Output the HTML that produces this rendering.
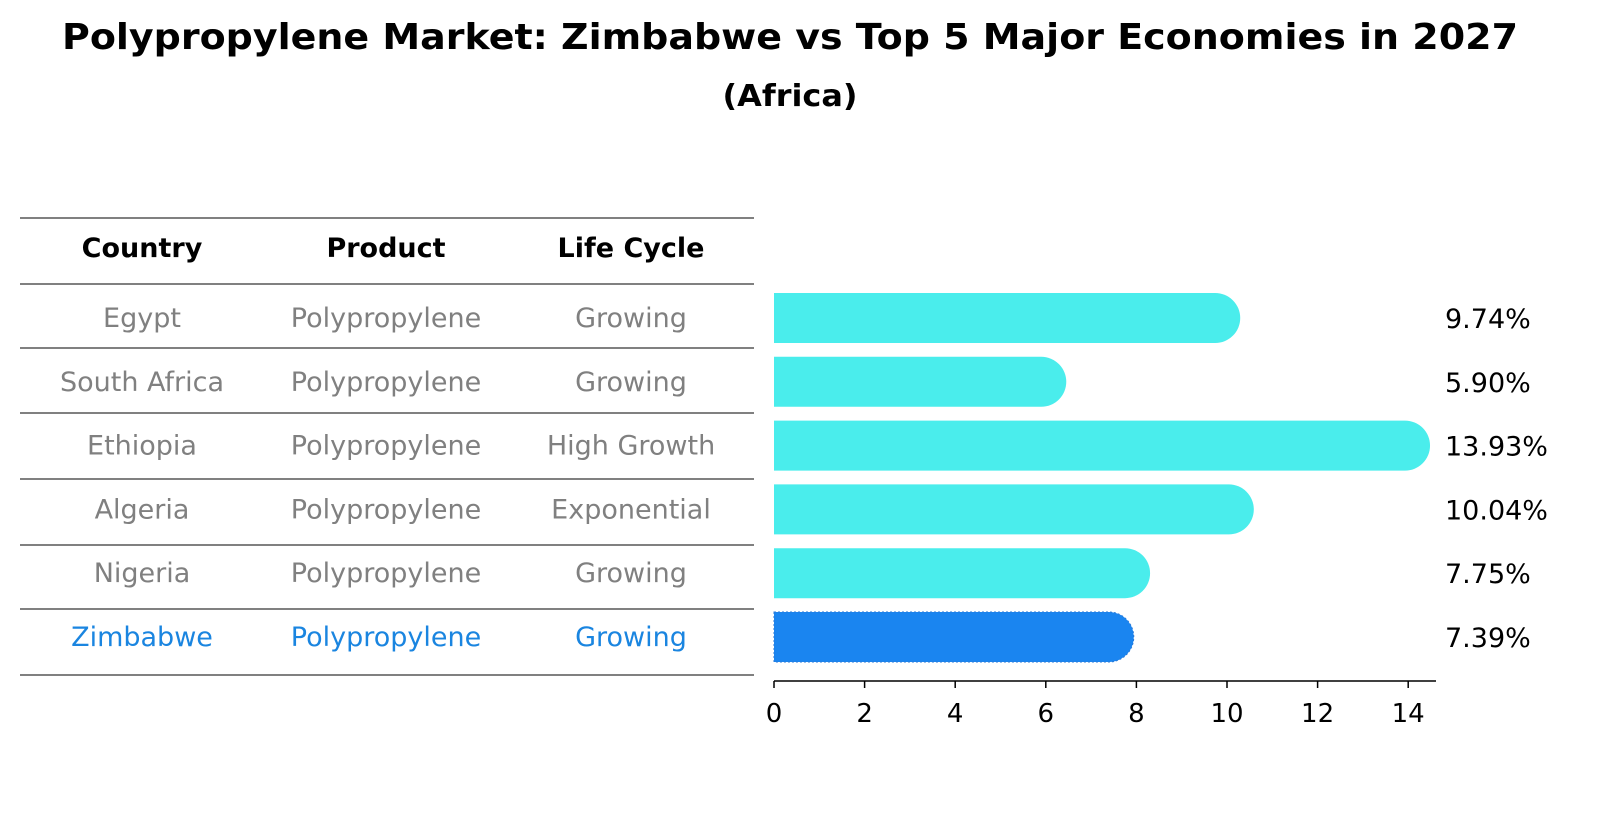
<!DOCTYPE html>
<html><head><meta charset="utf-8"><style>
body{margin:0;background:#fff;width:1604px;height:823px;overflow:hidden;font-family:"Liberation Sans","DejaVu Sans",sans-serif}
</style></head><body>
<svg width="1604" height="823" xmlns="http://www.w3.org/2000/svg" font-family="DejaVu Sans, Liberation Sans, sans-serif">
<text x="790" y="49" text-anchor="middle" font-size="36" font-weight="bold" textLength="1456" lengthAdjust="spacingAndGlyphs">Polypropylene Market: Zimbabwe vs Top 5 Major Economies in 2027</text>
<text x="790" y="106" text-anchor="middle" font-size="30" font-weight="bold" textLength="135" lengthAdjust="spacingAndGlyphs">(Africa)</text>
<g id="table"></g>
<g id="bars"></g>
<g id="axis"></g>
</svg>
<script>
const countries=["Egypt","South Africa","Ethiopia","Algeria","Nigeria","Zimbabwe"];
const products=["Polypropylene","Polypropylene","Polypropylene","Polypropylene","Polypropylene","Polypropylene"];
const lifecycle=["Growing","Growing","High Growth","Exponential","Growing","Growing"];
const values=[9.74,5.90,13.93,10.04,7.75,7.39];
const ticks=[0,2,4,6,8,10,12,14];
const NS="http://www.w3.org/2000/svg";
function mk(t,a,p){const e=document.createElementNS(NS,t);for(const k in a)e.setAttribute(k,a[k]);p.appendChild(e);return e;}
const x=v=>774+v*45.3;
const rowY=i=>318+i*63.8;
const tbl=document.getElementById('table');
const lines=[218,284,348,413,479,545,609,675];
lines.forEach(y=>{const l=mk('line',{x1:20,x2:754,y1:y,y2:y,stroke:'#000','stroke-width':1},tbl);

});
const cx=[142,386,631];
["Country","Product","Life Cycle"].forEach((h,j)=>{const t=mk('text',{x:cx[j],y:257,'text-anchor':'middle','font-size':27,'font-weight':'bold'},tbl);t.textContent=h;

});
countries.forEach((c,i)=>{const col=i===5?'#1a85e0':'#808080';
[c,products[i],lifecycle[i]].forEach((s,j)=>{const t=mk('text',{x:cx[j],y:rowY(i)+9,'text-anchor':'middle','font-size':27,fill:col},tbl);t.textContent=s;

});});
const bars=document.getElementById('bars');
values.forEach((v,i)=>{const y=rowY(i)-25,h=50,w=x(v)-x(0)+25;
const hi=i===5;
const p=mk('path',{d:`M${x(0)},${y} H${x(0)+w-25} A25,25 0 0 1 ${x(0)+w-25},${y+h} H${x(0)} Z`,fill:hi?'#1a85f0':'#4aedec',stroke:hi?'#2a7ad8':'none','stroke-dasharray':hi?'2,2':'none'},bars);


const t=mk('text',{x:1445,y:rowY(i)+10,'font-size':27},bars);t.textContent=v.toFixed(2)+'%';

});
const ax=document.getElementById('axis');
mk('line',{x1:774,x2:1436,y1:681,y2:681,stroke:'#000','stroke-width':1.5},ax);
ticks.forEach(v=>{mk('line',{x1:x(v),x2:x(v),y1:681,y2:688,stroke:'#000','stroke-width':1.5},ax);
const t=mk('text',{x:x(v),y:722,'text-anchor':'middle','font-size':26},ax);t.textContent=v;

});
</script>
</body></html>
